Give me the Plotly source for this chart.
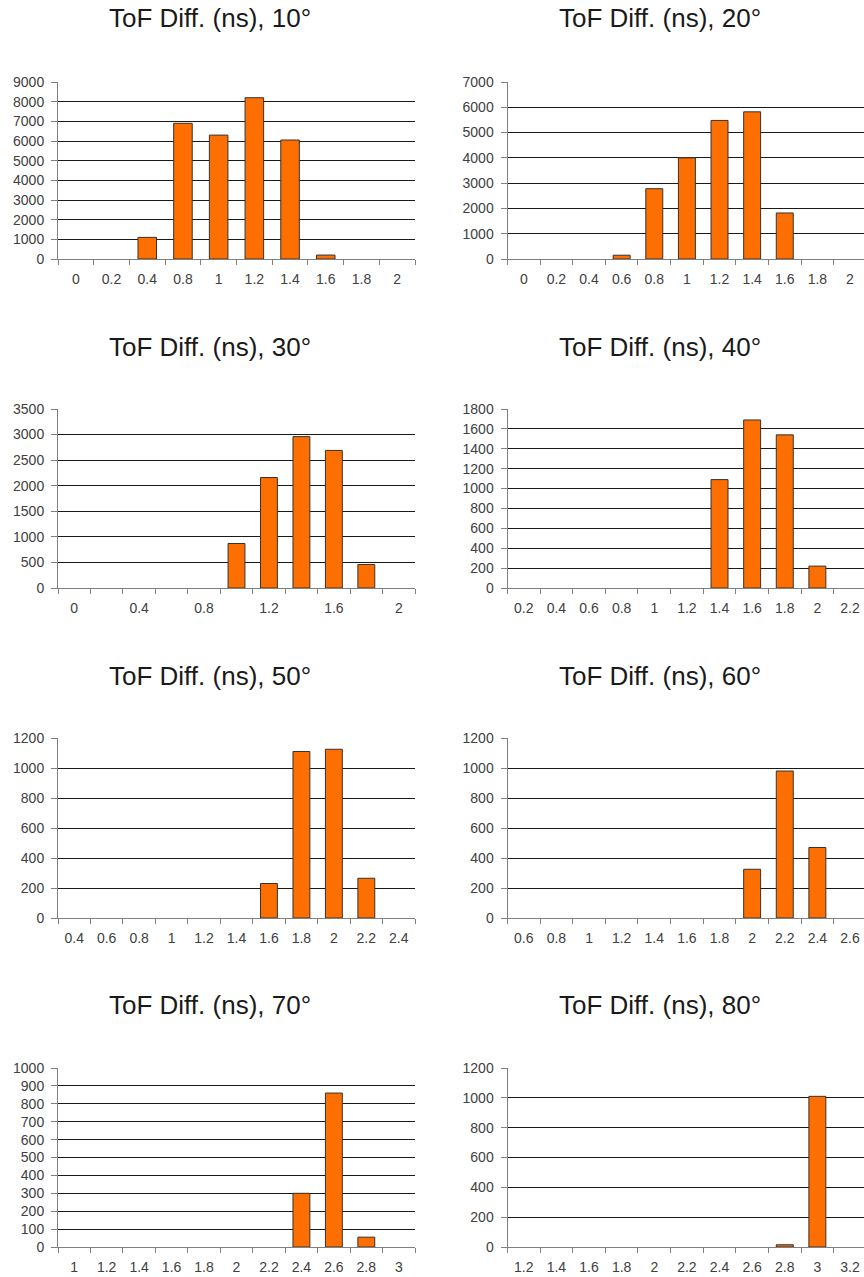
import plotly.graph_objects as go

W, H = 864, 1277

titles = ["ToF Diff. (ns), 10°", "ToF Diff. (ns), 20°", "ToF Diff. (ns), 30°", "ToF Diff. (ns), 40°",
          "ToF Diff. (ns), 50°", "ToF Diff. (ns), 60°", "ToF Diff. (ns), 70°", "ToF Diff. (ns), 80°"]

cats_10 = ["0", "0.2", "0.4", "0.8", "1", "1.2", "1.4", "1.6", "1.8", "2"]
vals_10 = [0, 0, 1100, 6900, 6300, 8200, 6050, 200, 0, 0]

cats_20 = ["0", "0.2", "0.4", "0.6", "0.8", "1", "1.2", "1.4", "1.6", "1.8", "2"]
vals_20 = [0, 0, 0, 150, 2780, 4000, 5480, 5820, 1820, 0, 0]

cats_30 = ["0", "0.2", "0.4", "0.6", "0.8", "1", "1.2", "1.4", "1.6", "1.8", "2"]
labels_30 = ["0", "", "0.4", "", "0.8", "", "1.2", "", "1.6", "", "2"]
vals_30 = [0, 0, 0, 0, 0, 870, 2160, 2960, 2690, 460, 0]

cats_40 = ["0.2", "0.4", "0.6", "0.8", "1", "1.2", "1.4", "1.6", "1.8", "2", "2.2"]
vals_40 = [0, 0, 0, 0, 0, 0, 1090, 1690, 1540, 220, 0]

cats_50 = ["0.4", "0.6", "0.8", "1", "1.2", "1.4", "1.6", "1.8", "2", "2.2", "2.4"]
vals_50 = [0, 0, 0, 0, 0, 0, 230, 1110, 1125, 265, 0]

cats_60 = ["0.6", "0.8", "1", "1.2", "1.4", "1.6", "1.8", "2", "2.2", "2.4", "2.6"]
vals_60 = [0, 0, 0, 0, 0, 0, 0, 325, 980, 470, 0]

cats_70 = ["1", "1.2", "1.4", "1.6", "1.8", "2", "2.2", "2.4", "2.6", "2.8", "3"]
vals_70 = [0, 0, 0, 0, 0, 0, 0, 300, 860, 55, 0]

cats_80 = ["1.2", "1.4", "1.6", "1.8", "2", "2.2", "2.4", "2.6", "2.8", "3", "3.2"]
vals_80 = [0, 0, 0, 0, 0, 0, 0, 0, 15, 1010, 0]

y_max = [9000, 7000, 3500, 1800, 1200, 1200, 1000, 1200]
y_step = [1000, 1000, 500, 200, 200, 200, 100, 200]

panels = [
    (cats_10, vals_10, cats_10),
    (cats_20, vals_20, cats_20),
    (cats_30, vals_30, labels_30),
    (cats_40, vals_40, cats_40),
    (cats_50, vals_50, cats_50),
    (cats_60, vals_60, cats_60),
    (cats_70, vals_70, cats_70),
    (cats_80, vals_80, cats_80),
]

# layout in pixels
col_x = [(58, 415), (507.5, 864)]
row_y = [(82, 259), (409, 588), (738, 918), (1068, 1247)]
title_y = [18, 347, 676, 1005]
title_x = [210, 660]

fig = go.Figure()
layout = dict(
    width=W, height=H,
    margin=dict(l=0, r=0, t=0, b=0, pad=0, autoexpand=False),
    paper_bgcolor="white", plot_bgcolor="white", showlegend=False,
    font=dict(family="Liberation Sans, Arial, sans-serif", color="#333333"),
)
annotations = []
for i, (cats, vals, labels) in enumerate(panels):
    r, c = divmod(i, 2)
    n = i + 1
    xa = "x" if n == 1 else f"x{n}"
    ya = "y" if n == 1 else f"y{n}"
    fig.add_trace(go.Bar(
        x=cats, y=vals, xaxis=xa, yaxis=ya,
        marker=dict(color="#FF6F00",
                    line=dict(color="#333333",
                              width=[1 if v > 0 else 0 for v in vals])),
        width=0.52,
    ))
    x0, x1 = col_x[c]
    top, bot = row_y[r]
    ncat = len(cats)
    rng_end = ncat - 0.5
    if c == 1:
        # right column is clipped by the page edge
        cell = (866.3 - 507.5) / ncat
        rng_end = ncat - 0.5 - (866.3 - 864) / cell
    key_x = "xaxis" if n == 1 else f"xaxis{n}"
    key_y = "yaxis" if n == 1 else f"yaxis{n}"
    layout[key_x] = dict(
        domain=[x0 / W, x1 / W], anchor=ya, type="category",
        categoryorder="array", categoryarray=cats,
        tickmode="array", tickvals=cats, ticktext=labels,
        range=[-0.5, rng_end], tickson="boundaries",
        ticks="outside", ticklen=5, tickcolor="#808080",
        showline=True, linecolor="#808080", linewidth=1,
        showgrid=False, zeroline=False,
        tickfont=dict(size=14, color="#404040"),
        ticklabelstandoff=7,
        automargin=False,
        fixedrange=True,
    )
    layout[key_y] = dict(
        domain=[1 - bot / H, 1 - top / H], anchor=xa,
        range=[0, y_max[i]], dtick=y_step[i], tick0=0,
        ticks="outside", ticklen=6, tickcolor="#808080",
        showline=True, linecolor="#808080", linewidth=1,
        showgrid=True, gridcolor="#1a1a1a", gridwidth=1,
        zeroline=False,
        tickfont=dict(size=14, color="#404040"),
        ticklabelstandoff=4,
        automargin=False,
        fixedrange=True,
    )
    annotations.append(dict(
        text=titles[i], x=title_x[c] / W, y=1 - title_y[r] / H,
        xref="paper", yref="paper", xanchor="center", yanchor="middle",
        showarrow=False, font=dict(size=26, color="#1a1a1a"),
    ))

layout["annotations"] = annotations
fig.update_layout(**layout)
fig.write_html("out.html")
